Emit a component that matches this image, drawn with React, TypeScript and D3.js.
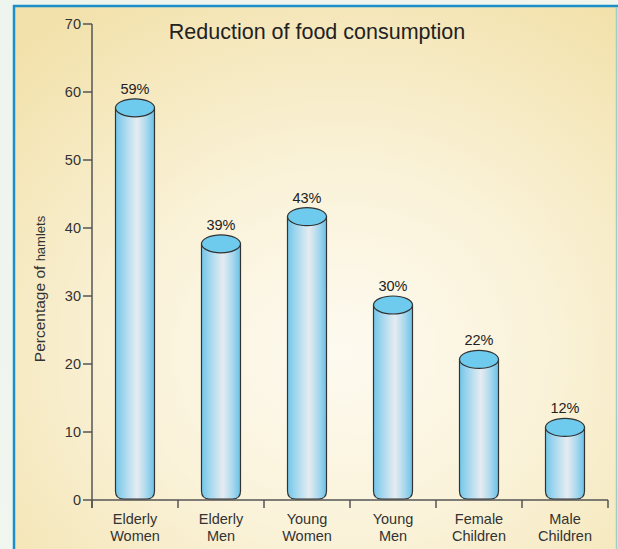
import React from "react";
import * as d3 from "d3";

// Share of hamlets reporting reduced food consumption, by group
const categories: string[][] = [
  ["Elderly", "Women"],
  ["Elderly", "Men"],
  ["Young", "Women"],
  ["Young", "Men"],
  ["Female", "Children"],
  ["Male", "Children"],
];
const values: number[] = [59, 39, 43, 30, 22, 12];
const yTicks: number[] = [0, 10, 20, 30, 40, 50, 60, 70];

const W = 618;
const H = 549;
const FONT = "'Liberation Sans', Arial, Helvetica, sans-serif";

export default function App() {
  const x0 = 92;
  const x1 = 608;
  const yBase = 500;
  const yTop = 24;

  const x = d3
    .scaleBand<number>()
    .domain(values.map((_, i) => i))
    .range([x0, x1])
    .paddingInner(0)
    .paddingOuter(0);
  const y = d3.scaleLinear().domain([0, 70]).range([yBase, yTop]);

  const barW = 39;
  const ry = 9;
  const rBottom = 8;

  const boundaries = d3.range(categories.length + 1).map((i) => x0 + i * x.bandwidth());

  return (
    <svg
      width={W}
      height={H}
      viewBox={`0 0 ${W} ${H}`}
      style={{ position: "absolute", left: 0, top: 0, display: "block" }}
    >
      <defs>
        <radialGradient id="panelBg" cx="52%" cy="62%" r="75%">
          <stop offset="0%" stopColor="#fdfaf0" />
          <stop offset="45%" stopColor="#faf2d8" />
          <stop offset="100%" stopColor="#f2e1aa" />
        </radialGradient>
        <linearGradient id="cyl" x1="0" x2="1" y1="0" y2="0">
          <stop offset="0%" stopColor="#72c6e9" />
          <stop offset="25%" stopColor="#a9d9ef" />
          <stop offset="55%" stopColor="#e6ecf0" />
          <stop offset="80%" stopColor="#a8d8ee" />
          <stop offset="100%" stopColor="#68c2e8" />
        </linearGradient>
        <linearGradient id="outerBg" x1="0" x2="1" y1="0" y2="1">
          <stop offset="0%" stopColor="#eef5ee" />
          <stop offset="100%" stopColor="#f3f7f0" />
        </linearGradient>
      </defs>

      <rect x={0} y={0} width={W} height={H} fill="url(#outerBg)" />
      <rect x={14} y={6} width={W + 10} height={H + 10} fill="url(#panelBg)" stroke="#1b8fca" strokeWidth={2.5} />
      <line x1={616.5} y1={7} x2={616.5} y2={H} stroke="#9fcfc4" strokeWidth={1.5} />

      {/* title */}
      <text x={317} y={39} textAnchor="middle" fontFamily={FONT} fontSize={21.5} fill="#222">
        Reduction of food consumption
      </text>

      {/* y axis */}
      <line x1={x0} y1={y(70)} x2={x0} y2={yBase + 8} stroke="#555" strokeWidth={1.5} />
      {yTicks.map((t) => (
        <g key={t}>
          <line x1={x0 - 9} x2={x0} y1={y(t)} y2={y(t)} stroke="#555" strokeWidth={1.5} />
          <text
            x={x0 - 11}
            y={y(t)}
            dy="0.36em"
            textAnchor="end"
            fontFamily={FONT}
            fontSize={14.5}
            fill="#333"
          >
            {t}
          </text>
        </g>
      ))}

      {/* y axis title */}
      <text
        transform={`translate(45,289) rotate(-90)`}
        textAnchor="middle"
        fontFamily={FONT}
        fill="#333"
      >
        <tspan fontSize={15.5}>Percentage of </tspan>
        <tspan fontSize={13}>hamlets</tspan>
      </text>

      {/* x axis */}
      <line x1={x0} x2={x1} y1={yBase} y2={yBase} stroke="#555" strokeWidth={1.5} />
      {boundaries.map((bx, i) => (
        <line key={i} x1={bx} x2={bx} y1={yBase} y2={yBase + 8} stroke="#555" strokeWidth={1.5} />
      ))}

      {/* cylinders */}
      {values.map((v, i) => {
        const cx = (x(i) as number) + x.bandwidth() / 2;
        const l = cx - barW / 2;
        const r = cx + barW / 2;
        const topC = y(v) + ry;
        const bottom = yBase - 1;
        const body = d3.path();
        body.moveTo(l, topC);
        body.lineTo(l, bottom - rBottom);
        body.quadraticCurveTo(l, bottom, l + rBottom, bottom);
        body.lineTo(r - rBottom, bottom);
        body.quadraticCurveTo(r, bottom, r, bottom - rBottom);
        body.lineTo(r, topC);
        body.closePath();
        return (
          <g key={i}>
            <path d={body.toString()} fill="url(#cyl)" stroke="#333" strokeWidth={1.2} />
            <ellipse cx={cx} cy={topC} rx={barW / 2} ry={ry} fill="#6fcbed" stroke="#333" strokeWidth={1.2} />
            <text
              x={cx}
              y={y(v) - 5}
              textAnchor="middle"
              fontFamily={FONT}
              fontSize={14.5}
              fill="#222"
            >
              {v}%
            </text>
          </g>
        );
      })}

      {/* category labels */}
      {categories.map((lines, i) => {
        const cx = (x(i) as number) + x.bandwidth() / 2;
        return (
          <text key={i} textAnchor="middle" fontFamily={FONT} fontSize={14.5} fill="#333">
            {lines.map((ln, j) => (
              <tspan key={j} x={cx} y={524 + j * 17}>
                {ln}
              </tspan>
            ))}
          </text>
        );
      })}
    </svg>
  );
}
